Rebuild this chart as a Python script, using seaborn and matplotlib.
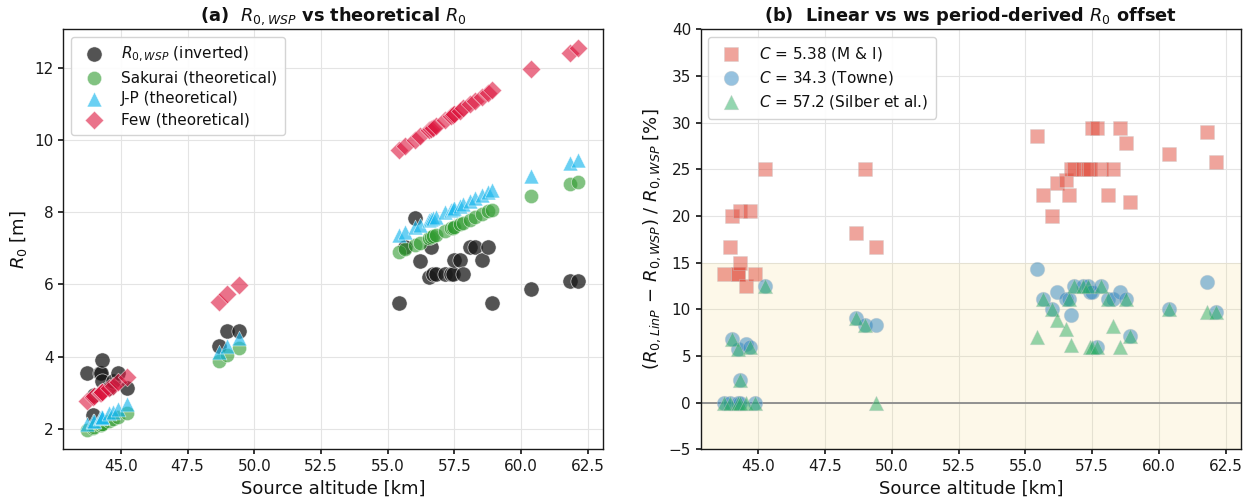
import numpy as np
import pandas as pd
import matplotlib
matplotlib.use("Agg")
import matplotlib.pyplot as plt
import seaborn as sns

# Source altitude of each event [km]
altitude = [43.72, 43.95, 44.01, 44.22, 44.24, 44.30, 44.31, 44.55, 44.69, 44.89, 45.23,
            48.66, 48.98, 49.42,
            55.42, 55.65, 56.01, 56.20, 56.54, 56.62, 56.71, 56.82, 57.16, 57.36,
            57.44, 57.49, 57.70, 57.84, 58.08, 58.28, 58.53, 58.76, 58.91,
            60.37, 61.82, 62.15]

# Inverted R0 from the weak-shock period [m]
r0_wsp = [3.54, 2.37, 2.94, 3.54, 3.54, 3.33, 3.91, 3.13, 3.33, 3.54, 3.13,
          4.30, 4.70, 4.70,
          5.48, 7.04, 7.85, 6.65, 6.19, 7.04, 6.28, 6.28, 6.28, 6.28,
          6.28, 6.67, 6.67, 6.28, 7.04, 7.04, 6.67, 7.04, 5.48,
          5.87, 6.08, 6.08]

# Theoretical R0 estimates [m]
r0_sakurai = [1.96, 2.03, 2.05, 2.11, 2.12, 2.14, 2.14, 2.22, 2.26, 2.33, 2.43,
              3.89, 4.05, 4.24,
              6.89, 6.97, 7.09, 7.15, 7.27, 7.30, 7.33, 7.36, 7.48, 7.55,
              7.57, 7.59, 7.66, 7.71, 7.79, 7.86, 7.94, 8.02, 8.07,
              8.44, 8.77, 8.84]
r0_jp = [2.13, 2.21, 2.23, 2.31, 2.32, 2.34, 2.34, 2.43, 2.48, 2.56, 2.68,
         4.14, 4.30, 4.51,
         7.37, 7.45, 7.58, 7.65, 7.77, 7.80, 7.83, 7.87, 7.99, 8.06,
         8.09, 8.11, 8.18, 8.23, 8.32, 8.39, 8.48, 8.56, 8.61,
         9.00, 9.35, 9.43]
r0_few = [2.78, 2.88, 2.90, 3.00, 3.00, 3.03, 3.03, 3.14, 3.20, 3.29, 3.44,
          5.50, 5.73, 5.99,
          9.73, 9.84, 10.01, 10.10, 10.26, 10.30, 10.34, 10.39, 10.56, 10.65,
          10.69, 10.71, 10.81, 10.88, 10.99, 11.08, 11.20, 11.31, 11.38,
          11.95, 12.40, 12.53]

# Relative offset of the linear-period R0 for three values of C [%]
offset_mi = [13.8, 16.7, 20.0, 13.8, 13.8, 15.0, 20.5, 12.5, 20.5, 13.8, 25.0,
             18.2, 25.0, 16.7,
             28.6, 22.25, 20.0, 23.57, 23.86, 22.25, 25.0, 25.0, 25.0, 25.0,
             25.0, 29.4, 29.4, 25.0, 22.25, 25.0, 29.4, 27.8, 21.47,
             26.65, 29.04, 25.82]
offset_towne = [0.0, 0.0, 6.79, 0.0, 5.72, 2.43, 0.0, 6.29, 5.93, 0.0, 12.54,
                9.07, 8.31, 8.31,
                14.3, 11.1, 10.04, 11.83, 11.1, 11.1, 9.4, 12.54, 12.54, 12.54,
                11.83, 11.83, 6.0, 12.54, 11.1, 11.1, 11.83, 11.1, 7.18,
                10.0, 12.93, 9.75]
offset_silber = [0.0, 0.0, 6.79, 0.0, 5.72, 2.43, 0.0, 0.0, 5.93, 0.0, 12.54,
                 9.07, 8.31, 0.0,
                 7.07, 11.1, 10.04, 8.86, 7.9, 11.1, 6.18, 12.54, 12.54, 12.54,
                 6.0, 6.0, 6.0, 12.54, 11.1, 8.25, 6.0, 11.1, 7.18,
                 10.0, 9.68, 9.75]

left_labels = [r"$R_{0,WSP}$ (inverted)", "Sakurai (theoretical)",
               "J-P (theoretical)", "Few (theoretical)"]
right_labels = [r"$C$ = 5.38 (M & I)", r"$C$ = 34.3 (Towne)",
                r"$C$ = 57.2 (Silber et al.)"]

df = pd.DataFrame({
    "altitude": altitude, "r0_wsp": r0_wsp, "r0_sakurai": r0_sakurai,
    "r0_jp": r0_jp, "r0_few": r0_few, "offset_mi": offset_mi,
    "offset_towne": offset_towne, "offset_silber": offset_silber,
})

sns.set_theme(style="whitegrid")
plt.rcParams.update({
    "font.family": ["DejaVu Sans"],
    "text.color": "#111111",
    "axes.labelcolor": "#111111",
    "axes.edgecolor": "#1a1a1a",
    "axes.linewidth": 1.0,
    "grid.color": "#e4e4e4",
    "grid.linewidth": 0.8,
    "xtick.bottom": True,
    "ytick.left": True,
    "xtick.major.size": 3.5,
    "ytick.major.size": 3.5,
    "xtick.color": "#1a1a1a",
    "ytick.color": "#1a1a1a",
    "xtick.labelsize": 11,
    "ytick.labelsize": 11,
})

fig = plt.figure(figsize=(12.5, 4.98), dpi=100)
ax1 = fig.add_axes([0.0506, 0.0976, 0.4320, 0.8434])
ax2 = fig.add_axes([0.5606, 0.0976, 0.4322, 0.8434])

# (a) inverted vs theoretical R0
left_series = [
    ("r0_wsp", "#1a1a1a", "o", 0.75, 120),
    ("r0_sakurai", "#2e9a2e", "o", 0.6, 105),
    ("r0_jp", "#1ab8ee", "^", 0.65, 115),
    ("r0_few", "#dc143c", "D", 0.6, 90),
]
for (col, color, marker, alpha, size), label in zip(left_series, left_labels):
    sns.scatterplot(data=df, x="altitude", y=col, ax=ax1, color=color,
                    marker=marker, alpha=alpha, s=size, edgecolor="white",
                    linewidth=0.5, label=label)
ax1.set_title(r"(a)  $R_{0,WSP}$ vs theoretical $R_0$", fontsize=12.8,
              fontweight="bold")
ax1.set_xlabel("Source altitude [km]", fontsize=13)
ax1.set_ylabel(r"$R_0$ [m]", fontsize=13)
ax1.legend(loc="upper left", fontsize=11, framealpha=0.9,
           edgecolor="#d0d0d0", borderpad=0.5, labelspacing=0.4,
           handletextpad=0.8)

# (b) relative offset of the linear-period R0
ax2.axhspan(-5, 15, color="#f2cc50", alpha=0.12, lw=0, zorder=0.6)
ax2.axhline(0, color="#8a8a8a", lw=1.3, zorder=1)
right_series = [
    ("offset_mi", "#e04a3a", "s", 0.5, 100),
    ("offset_towne", "#2f86c0", "o", 0.5, 110),
    ("offset_silber", "#2aae62", "^", 0.5, 110),
]
for (col, color, marker, alpha, size), label in zip(right_series, right_labels):
    sns.scatterplot(data=df, x="altitude", y=col, ax=ax2, color=color,
                    marker=marker, alpha=alpha, s=size, edgecolor="#cccccc",
                    linewidth=0.5, label=label, zorder=3)
ax2.set_ylim(-5, 40)
ax2.set_yticks(np.arange(-5, 41, 5))
ax2.set_title(r"(b)  Linear vs ws period-derived $R_0$ offset", fontsize=12.8,
              fontweight="bold")
ax2.set_xlabel("Source altitude [km]", fontsize=13)
ax2.set_ylabel(r"$(R_{0,LinP}\,-\,R_{0,WSP})$ / $R_{0,WSP}$ [%]", fontsize=13)
ax2.legend(loc="upper left", fontsize=11, framealpha=0.9,
           edgecolor="#d0d0d0", borderpad=0.5, labelspacing=0.4,
           handletextpad=0.8)

for ax in (ax1, ax2):
    ax.set_xlim(42.84, 63.08)
    ax.set_xticks(np.arange(45, 62.6, 2.5))
    for sp in ax.spines.values():
        sp.set_visible(True)
        sp.set_color("#1a1a1a")

fig.savefig("out.png", dpi=100)
